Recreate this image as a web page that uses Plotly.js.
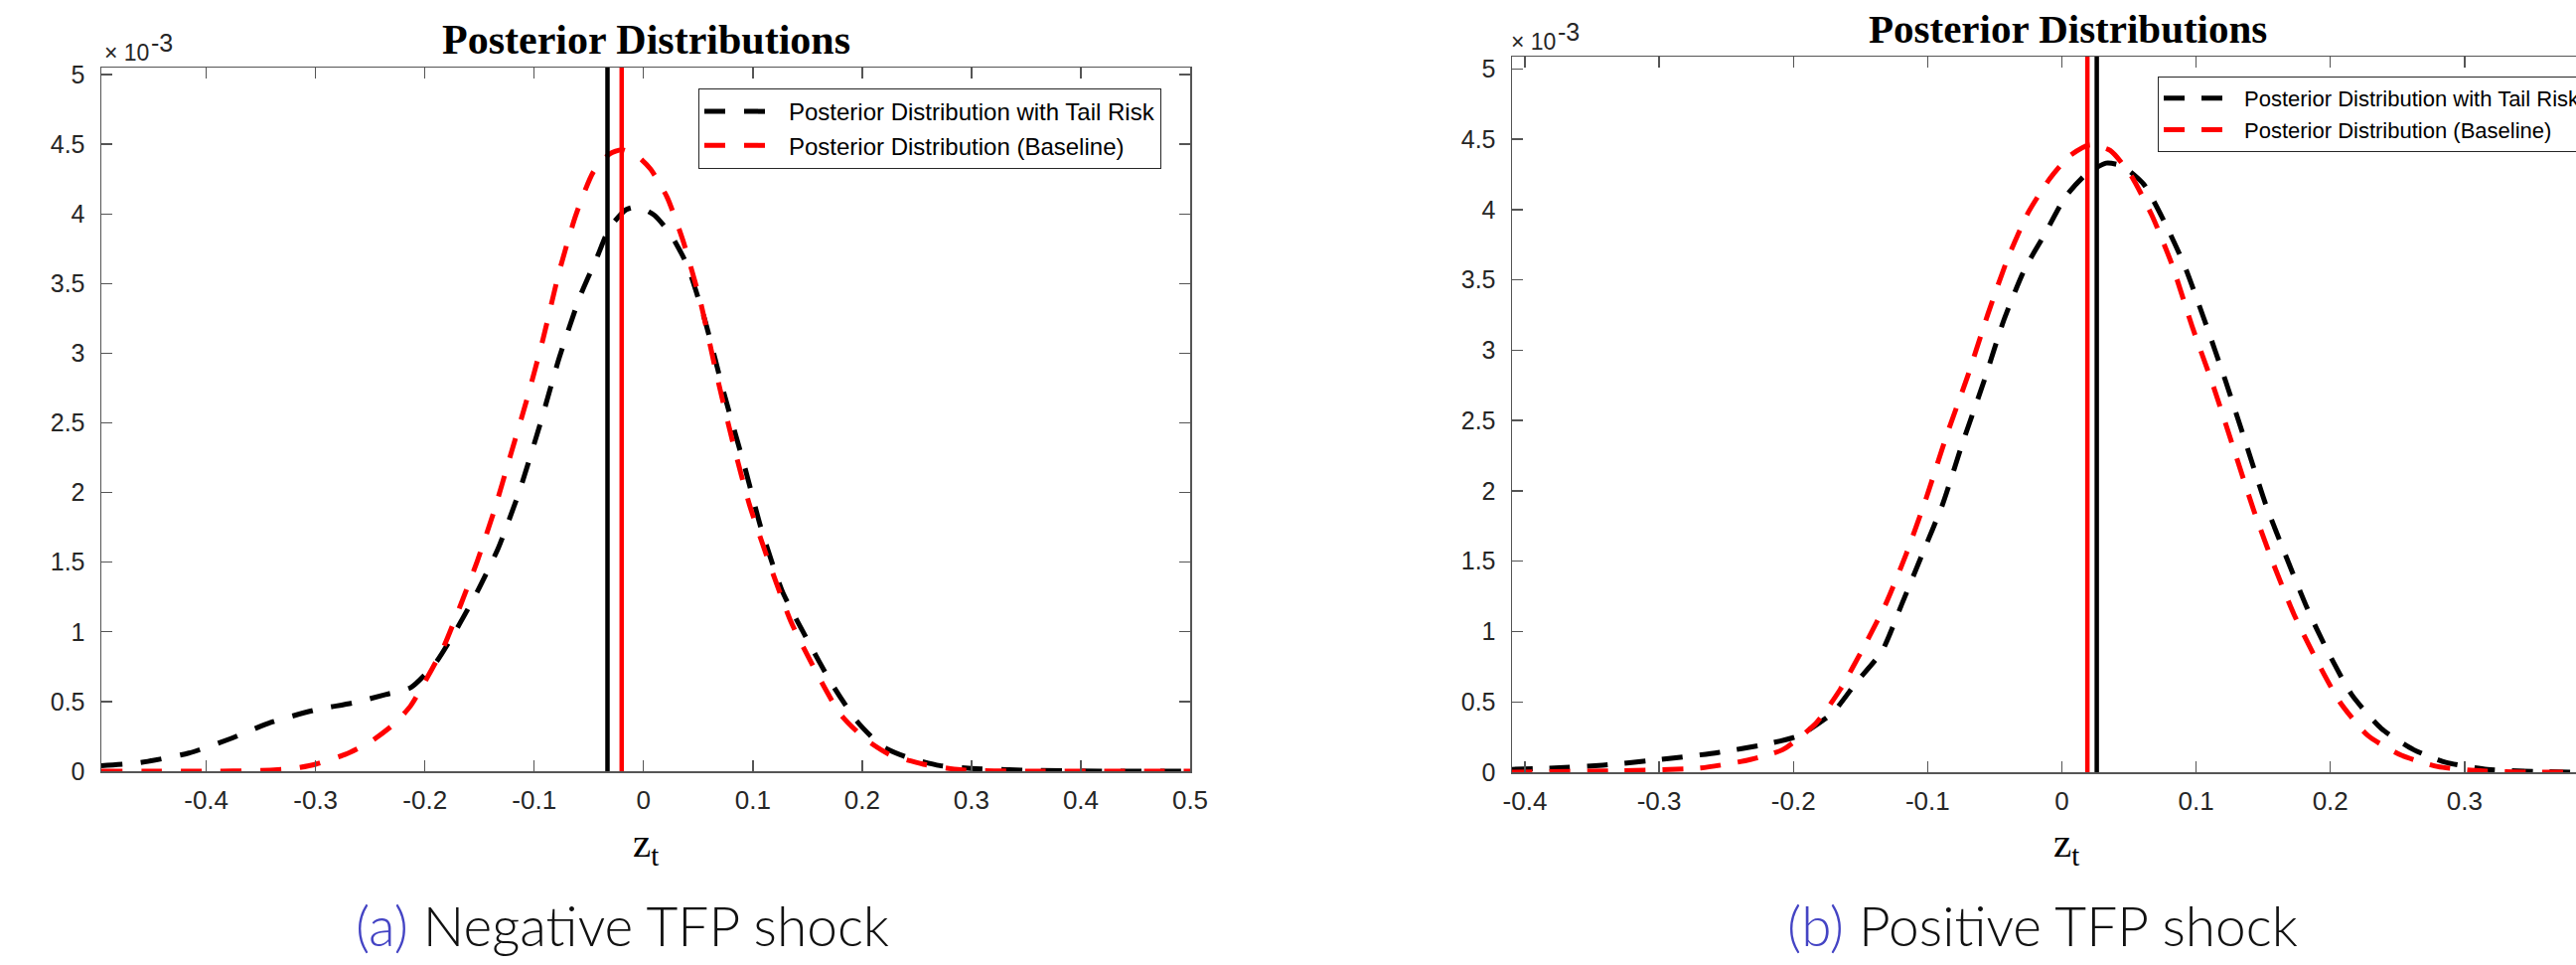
<!DOCTYPE html>
<html>
<head>
<meta charset="utf-8">
<script src="https://cdn.plot.ly/plotly-3.0.1.min.js"></script>
<style>
  html, body { margin: 0; padding: 0; background: #ffffff; }
  #chart { width: 2593px; height: 971px; }
</style>
</head>
<body>
<div id="chart"></div>
<script>
// ---------------- DATA (density values in units of 1e-3) ----------------
// Panel (a): Negative TFP shock
const negTailX = [-0.496, -0.462, -0.416, -0.379, -0.341, -0.300, -0.266, -0.236, -0.213, -0.190, -0.171, -0.152, -0.133, -0.114, -0.095, -0.077, -0.058, -0.043, -0.031, -0.016, -0.005, 0.010, 0.025, 0.040, 0.056, 0.074, 0.093, 0.108, 0.127, 0.150, 0.172, 0.195, 0.218, 0.241, 0.271, 0.300, 0.360, 0.430, 0.500];
const negTailY = [0.04, 0.06, 0.13, 0.23, 0.35, 0.44, 0.49, 0.55, 0.60, 0.78, 1.02, 1.29, 1.60, 2.00, 2.48, 2.97, 3.41, 3.68, 3.90, 4.03, 4.05, 3.99, 3.85, 3.63, 3.24, 2.70, 2.17, 1.73, 1.29, 0.94, 0.63, 0.36, 0.18, 0.10, 0.04, 0.02, 0.005, 0.0, 0.0];
const negBaseX = [-0.496, -0.450, -0.400, -0.350, -0.320, -0.300, -0.273, -0.250, -0.228, -0.213, -0.198, -0.183, -0.167, -0.152, -0.137, -0.122, -0.107, -0.092, -0.077, -0.062, -0.046, -0.031, -0.020, -0.005, 0.0065, 0.0215, 0.036, 0.052, 0.067, 0.082, 0.097, 0.116, 0.135, 0.158, 0.180, 0.203, 0.225, 0.256, 0.290, 0.350, 0.420, 0.500];
const negBaseY = [0.0, 0.0, 0.0, 0.005, 0.02, 0.05, 0.12, 0.21, 0.34, 0.47, 0.67, 0.89, 1.20, 1.51, 1.86, 2.26, 2.66, 3.10, 3.59, 3.99, 4.30, 4.43, 4.46, 4.41, 4.32, 4.12, 3.81, 3.37, 2.84, 2.35, 1.91, 1.47, 1.07, 0.71, 0.41, 0.23, 0.12, 0.05, 0.01, 0.0, 0.0, 0.0];
const negMeanTail = -0.033;
const negMeanBase = -0.020;

// Panel (b): Positive TFP shock
const posTailX = [-0.410, -0.378, -0.342, -0.299, -0.256, -0.220, -0.196, -0.171, -0.153, -0.134, -0.119, -0.104, -0.089, -0.074, -0.058, -0.043, -0.028, -0.0125, 0.0026, 0.018, 0.033, 0.045, 0.061, 0.076, 0.091, 0.106, 0.122, 0.137, 0.152, 0.168, 0.183, 0.198, 0.216, 0.238, 0.262, 0.286, 0.317, 0.353, 0.383];
const posTailY = [0.02, 0.03, 0.05, 0.09, 0.14, 0.20, 0.26, 0.42, 0.64, 0.86, 1.20, 1.55, 1.90, 2.34, 2.78, 3.22, 3.57, 3.83, 4.09, 4.25, 4.33, 4.31, 4.18, 3.92, 3.61, 3.22, 2.78, 2.34, 1.90, 1.51, 1.16, 0.86, 0.55, 0.31, 0.16, 0.07, 0.02, 0.005, 0.0];
const posBaseX = [-0.410, -0.330, -0.269, -0.232, -0.208, -0.183, -0.165, -0.147, -0.131, -0.116, -0.101, -0.086, -0.070, -0.055, -0.040, -0.025, -0.009, 0.0056, 0.021, 0.036, 0.051, 0.067, 0.082, 0.097, 0.113, 0.128, 0.143, 0.158, 0.173, 0.189, 0.207, 0.228, 0.253, 0.280, 0.311, 0.350, 0.383];
const posBaseY = [0.0, 0.01, 0.03, 0.09, 0.16, 0.35, 0.59, 0.90, 1.20, 1.55, 1.95, 2.39, 2.82, 3.26, 3.66, 3.98, 4.22, 4.38, 4.46, 4.42, 4.25, 3.96, 3.61, 3.17, 2.74, 2.30, 1.86, 1.47, 1.12, 0.81, 0.50, 0.26, 0.12, 0.04, 0.01, 0.0, 0.0];
const posMeanBase = 0.019;
const posMeanTail = 0.026;

// Tick labels
const negXTicks = [-0.4, -0.3, -0.2, -0.1, 0, 0.1, 0.2, 0.3, 0.4, 0.5];
const negXTickText = ["-0.4", "-0.3", "-0.2", "-0.1", "0", "0.1", "0.2", "0.3", "0.4", "0.5"];
const posXTicks = [-0.4, -0.3, -0.2, -0.1, 0, 0.1, 0.2, 0.3];
const posXTickText = ["-0.4", "-0.3", "-0.2", "-0.1", "0", "0.1", "0.2", "0.3"];
const yTicks = [0, 0.5, 1, 1.5, 2, 2.5, 3, 3.5, 4, 4.5, 5];
const yTickText = ["0", "0.5", "1", "1.5", "2", "2.5", "3", "3.5", "4", "4.5", "5"];

const seriesNames = ["Posterior Distribution with Tail Risk", "Posterior Distribution (Baseline)"];
const chartTitle = "Posterior Distributions";
const xLabel = "z<sub>t</sub>";
const yScaleBase = "× 10";
const yScaleExp = "-3";
const captions = ["(a)", "Negative TFP shock", "(b)", "Positive TFP shock"];

// ---------------- LAYOUT HELPERS ----------------
const W = 2593, H = 971;
const px = v => v / W;
const py = v => 1 - v / H;

const negYRange = [0, 5.05];
const posYRange = [0, 5.087];

const black = "#000000", red = "#ff0000";
const lw = 5;

const traces = [
  {x: negTailX, y: negTailY, xaxis: "x", yaxis: "y", mode: "lines", name: seriesNames[0],
   line: {color: black, width: lw, dash: "21px,19px", shape: "spline", smoothing: 0.6}, legend: "legend"},
  {x: negBaseX, y: negBaseY, xaxis: "x", yaxis: "y", mode: "lines", name: seriesNames[1],
   line: {color: red, width: lw, dash: "21px,19px", shape: "spline", smoothing: 0.6}, legend: "legend"},
  {x: [negMeanTail, negMeanTail], y: negYRange, xaxis: "x", yaxis: "y", mode: "lines", showlegend: false,
   line: {color: black, width: 4.5}},
  {x: [negMeanBase, negMeanBase], y: negYRange, xaxis: "x", yaxis: "y", mode: "lines", showlegend: false,
   line: {color: red, width: 4.5}},

  {x: posTailX, y: posTailY, xaxis: "x2", yaxis: "y2", mode: "lines", name: seriesNames[0],
   line: {color: black, width: lw, dash: "21px,17px", shape: "spline", smoothing: 0.6}, legend: "legend2"},
  {x: posBaseX, y: posBaseY, xaxis: "x2", yaxis: "y2", mode: "lines", name: seriesNames[1],
   line: {color: red, width: lw, dash: "21px,17px", shape: "spline", smoothing: 0.6}, legend: "legend2"},
  {x: [posMeanBase, posMeanBase], y: posYRange, xaxis: "x2", yaxis: "y2", mode: "lines", showlegend: false,
   line: {color: red, width: 4.5}},
  {x: [posMeanTail, posMeanTail], y: posYRange, xaxis: "x2", yaxis: "y2", mode: "lines", showlegend: false,
   line: {color: black, width: 4.5}}
];

const axisColor = "#555555";
const tickFontColor = "#262626";
const sans = "'Liberation Sans', Arial, Helvetica, sans-serif";
const serif = "'Liberation Serif', 'Times New Roman', serif";

function xAxis(domain, range, tv, tt, anchor, fs) {
  return {
    domain: domain, range: range, anchor: anchor,
    tickmode: "array", tickvals: tv, ticktext: tt,
    ticks: "inside", ticklen: 11, tickwidth: 1.4, tickcolor: axisColor,
    showline: true, linecolor: axisColor, linewidth: 1.5, mirror: "ticks",
    showgrid: false, zeroline: false, fixedrange: true,
    tickfont: {family: sans, size: fs, color: tickFontColor},
    ticklabelstandoff: 5
  };
}
function yAxis(domain, range, anchor, mirror, fs) {
  return {
    domain: domain, range: range, anchor: anchor,
    tickmode: "array", tickvals: yTicks, ticktext: yTickText,
    ticks: "inside", ticklen: 11, tickwidth: 1.4, tickcolor: axisColor,
    showline: true, linecolor: axisColor, linewidth: 1.5, mirror: mirror,
    showgrid: false, zeroline: false, fixedrange: true,
    tickfont: {family: sans, size: fs, color: tickFontColor},
    ticklabelstandoff: 10
  };
}

const capFont = {family: "Lato, 'Open Sans', sans-serif", size: 55, color: "#111111", weight: 300};
const capBlue = "#4444c4";

function note(text, x, y, xa, ya, font) {
  return {text: text, x: px(x), y: py(y), xref: "paper", yref: "paper", xanchor: xa, yanchor: ya,
          showarrow: false, borderpad: 0, font: font};
}
const expBaseFont = {family: sans, size: 23, color: tickFontColor};
const expFont = {family: sans, size: 25, color: tickFontColor};

const layout = {
  width: W, height: H,
  margin: {l: 0, r: 0, t: 0, b: 0, pad: 0, autoexpand: false},
  paper_bgcolor: "#ffffff", plot_bgcolor: "#ffffff",
  showlegend: true,
  xaxis: xAxis([px(102), px(1198)], [-0.496, 0.5], negXTicks, negXTickText, "y", 26),
  yaxis: yAxis([py(776), py(68)], negYRange, "x", "ticks", 25),
  xaxis2: xAxis([px(1522), 1], [-0.4096, 0.383], posXTicks, posXTickText, "y2", 26),
  yaxis2: yAxis([py(777), py(57)], posYRange, "x2", false, 25),
  legend: {
    x: px(703), y: py(89), xanchor: "left", yanchor: "top", xref: "paper", yref: "paper",
    bgcolor: "#ffffff", bordercolor: "#262626", borderwidth: 1,
    font: {family: sans, size: 24, color: "#000000"}, itemwidth: 80
  },
  legend2: {
    x: px(2172), y: py(77), xanchor: "left", yanchor: "top", xref: "paper", yref: "paper",
    bgcolor: "#ffffff", bordercolor: "#262626", borderwidth: 1,
    font: {family: sans, size: 22, color: "#000000"}, itemwidth: 76
  },
  annotations: [
    note(chartTitle, 650, 40, "center", "middle", {family: serif, size: 42, color: "#000000", weight: "bold"}),
    note(chartTitle, 2081, 29, "center", "middle", {family: serif, size: 41, color: "#000000", weight: "bold"}),
    note(yScaleBase, 104, 67, "left", "bottom", expBaseFont),
    note(yScaleExp, 151, 58, "left", "bottom", expFont),
    note(yScaleBase, 1520, 56, "left", "bottom", expBaseFont),
    note(yScaleExp, 1567, 47, "left", "bottom", expFont),
    note(xLabel, 650, 824, "center", "top", {family: serif, size: 41, color: "#000000"}),
    note(xLabel, 2080, 824, "center", "top", {family: serif, size: 41, color: "#000000"}),
    note("<span style='color:" + capBlue + "'>" + captions[0] + "</span> " + captions[1], 626, 897, "center", "top", capFont),
    note("<span style='color:" + capBlue + "'>" + captions[2] + "</span> " + captions[3], 2056, 897, "center", "top", capFont)
  ]
};

Plotly.newPlot("chart", traces, layout, {staticPlot: true, displayModeBar: false});
</script>
</body>
</html>
